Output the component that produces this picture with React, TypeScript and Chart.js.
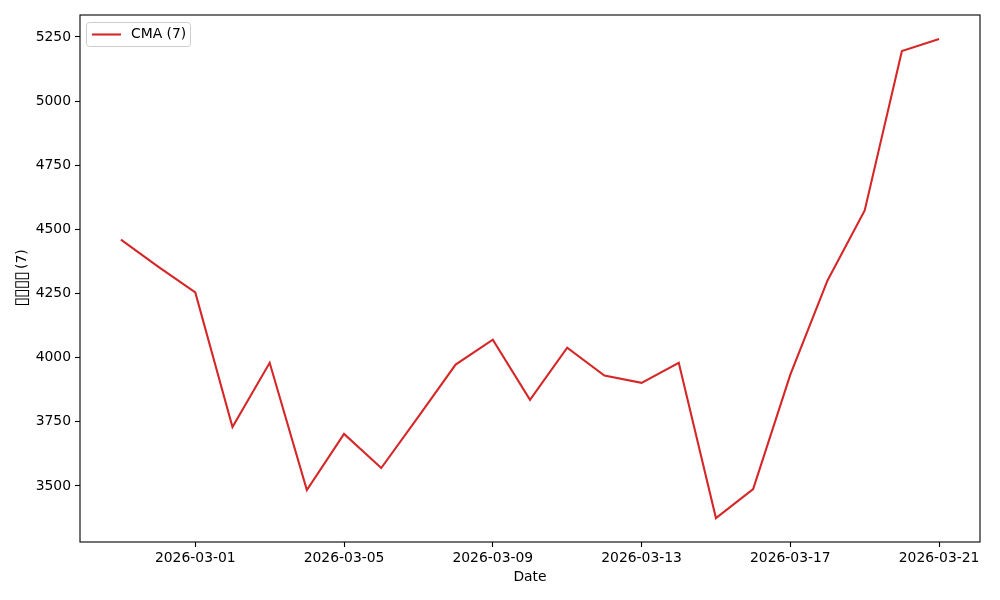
import React, { useEffect, useRef } from "react";
import { Chart, registerables } from "chart.js";

Chart.register(...registerables);

const dates = [
  "2026-02-27", "2026-02-28", "2026-03-01", "2026-03-02", "2026-03-03", "2026-03-04",
  "2026-03-05", "2026-03-06", "2026-03-07", "2026-03-08", "2026-03-09", "2026-03-10",
  "2026-03-11", "2026-03-12", "2026-03-13", "2026-03-14", "2026-03-15", "2026-03-16",
  "2026-03-17", "2026-03-18", "2026-03-19", "2026-03-20", "2026-03-21",
];
const cmaValues = [
  4460, 4355, 4254, 3730, 3980, 3484, 3703, 3570, 3770, 3973, 4070, 3836,
  4039, 3930, 3902, 3980, 3375, 3488, 3934, 4301, 4574, 5195, 5242,
];
const xTickDates = ["2026-03-01", "2026-03-05", "2026-03-09", "2026-03-13", "2026-03-17", "2026-03-21"];
const yTicks = [3500, 3750, 4000, 4250, 4500, 4750, 5000, 5250];
const seriesLabel = "CMA (7)";
const xTitle = "Date";
const yTitleMissing = "\u25AF\u25AF\u25AF\u25AF";
const yTitleSuffix = " (7)";

const FONT = "DejaVu Sans";
const FS = 13.9;

export default function App() {
  const ref = useRef<HTMLCanvasElement>(null);
  useEffect(() => {
    document.body.style.margin = "0";
    const n = dates.length;
    const xPad = (n - 1) * 0.05;
    const yMin = Math.min(...cmaValues);
    const yMax = Math.max(...cmaValues);
    const yPad = (yMax - yMin) * 0.05;

    const decor = {
      id: "decor",
      afterDraw(chart: any) {
        const { ctx, chartArea: a } = chart;
        ctx.save();
        ctx.strokeStyle = "#000";
        ctx.lineWidth = 1.1;
        ctx.strokeRect(a.left, a.top, a.right - a.left, a.bottom - a.top);
        // legend
        const lx = 86.5, ly = 22.5, lw = 104, lh = 24;
        ctx.beginPath();
        const r = 3;
        ctx.moveTo(lx + r, ly);
        ctx.lineTo(lx + lw - r, ly);
        ctx.quadraticCurveTo(lx + lw, ly, lx + lw, ly + r);
        ctx.lineTo(lx + lw, ly + lh - r);
        ctx.quadraticCurveTo(lx + lw, ly + lh, lx + lw - r, ly + lh);
        ctx.lineTo(lx + r, ly + lh);
        ctx.quadraticCurveTo(lx, ly + lh, lx, ly + lh - r);
        ctx.lineTo(lx, ly + r);
        ctx.quadraticCurveTo(lx, ly, lx + r, ly);
        ctx.closePath();
        ctx.fillStyle = "rgba(255,255,255,0.8)";
        ctx.fill();
        ctx.strokeStyle = "#cccccc";
        ctx.lineWidth = 1;
        ctx.stroke();
        ctx.beginPath();
        ctx.moveTo(92, 34.5);
        ctx.lineTo(121, 34.5);
        ctx.strokeStyle = "#d62728";
        ctx.lineWidth = 2.1;
        ctx.stroke();
        ctx.fillStyle = "#000";
        ctx.font = `${FS}px '${FONT}'`;
        ctx.textBaseline = "middle";
        ctx.textAlign = "left";
        ctx.fillText(seriesLabel, 131, 34.5);
        // axis titles
        ctx.textAlign = "center";
        ctx.textBaseline = "middle";
        ctx.fillText(xTitle, (a.left + a.right) / 2, 577);
        // y title: missing-glyph boxes + suffix
        ctx.translate(22, (a.top + a.bottom) / 2);
        ctx.rotate(-Math.PI / 2);
        const suffixW = ctx.measureText(yTitleSuffix).width;
        ctx.font = `18px '${FONT}'`;
        const oneW = ctx.measureText("\u25AF").width;
        const targetAdv = 8.6;
        const ls = targetAdv - oneW;
        const boxesW = targetAdv * yTitleMissing.length;
        const total = boxesW + suffixW;
        ctx.textAlign = "left";
        (ctx as any).letterSpacing = `${ls}px`;
        ctx.fillText(yTitleMissing, -total / 2 + 1, 0.5);
        (ctx as any).letterSpacing = "0px";
        ctx.font = `${FS}px '${FONT}'`;
        ctx.fillText(yTitleSuffix, -total / 2 + boxesW, 0);
        ctx.restore();
      },
    };

    const chart = new Chart(ref.current!, {
      type: "line",
      data: {
        datasets: [
          {
            label: seriesLabel,
            data: cmaValues.map((v, i) => ({ x: i, y: v })),
            borderColor: "#d62728",
            borderWidth: 2.1,
            pointRadius: 0,
            tension: 0,
            fill: false,
          },
        ],
      },
      options: {
        animation: false,
        responsive: false,
        layout: { padding: { left: 0, right: 20, top: 15, bottom: 0 } },
        plugins: { legend: { display: false }, tooltip: { enabled: false } },
        scales: {
          x: {
            type: "linear",
            min: -xPad,
            max: n - 1 + xPad,
            afterBuildTicks: (s: any) => {
              s.ticks = xTickDates.map((d) => ({ value: dates.indexOf(d) }));
            },
            afterFit: (s: any) => {
              s.height = 58;
            },
            ticks: {
              callback: (v: any) => dates[Math.round(v)] ?? "",
              color: "#000",
              font: { family: FONT, size: FS },
              padding: 3,
              maxRotation: 0,
              autoSkip: false,
            },
            grid: { drawOnChartArea: false, drawTicks: true, tickLength: 5, color: "#000", tickWidth: 1.1 },
            border: { display: false },
          },
          y: {
            type: "linear",
            min: yMin - yPad,
            max: yMax + yPad,
            afterBuildTicks: (s: any) => {
              s.ticks = yTicks.map((v) => ({ value: v }));
            },
            afterFit: (s: any) => {
              s.width = 80;
            },
            ticks: {
              callback: (v: any) => String(v),
              color: "#000",
              font: { family: FONT, size: FS },
              padding: 4,
              autoSkip: false,
            },
            grid: { drawOnChartArea: false, drawTicks: true, tickLength: 5, color: "#000", tickWidth: 1.1 },
            border: { display: false },
          },
        },
      },
      plugins: [decor],
    });
    return () => chart.destroy();
  }, []);
  return (
    <div style={{ position: "fixed", left: 0, top: 0, width: 1000, height: 600, background: "#fff" }}>
      <canvas ref={ref} width={1000} height={600} style={{ width: 1000, height: 600 }} />
    </div>
  );
}
